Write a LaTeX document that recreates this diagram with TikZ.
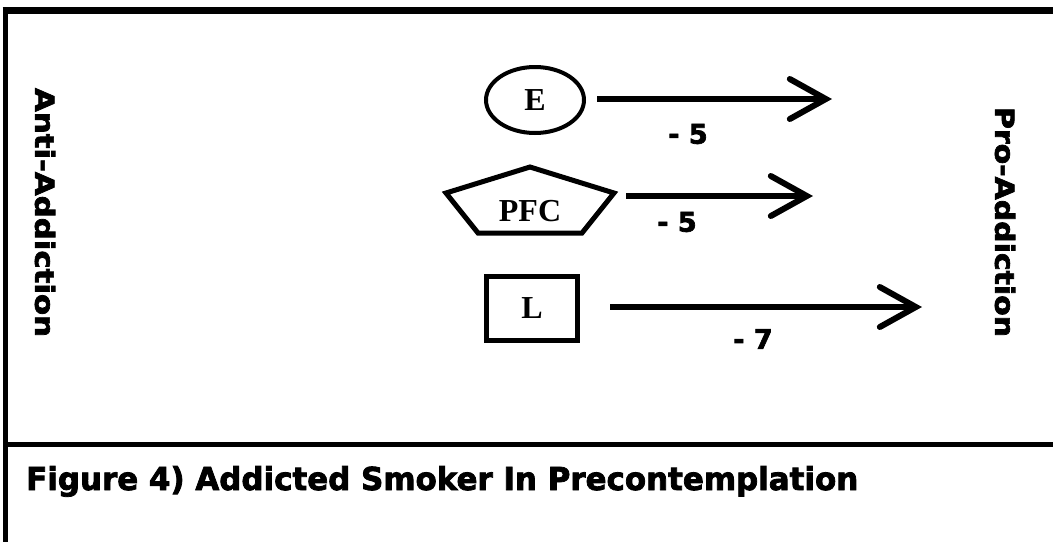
\documentclass[tikz,border=0pt]{standalone}
\usepackage{fontspec}
\usepackage{graphicx}
\setmainfont{Liberation Serif}
\newfontfamily\heavy{DejaVu Sans}[BoldFeatures={FakeBold=2.5}]
\usetikzlibrary{arrows.meta,shapes.geometric}
\tikzset{
  frameline/.style={line width=#1, black},
  shapelbl/.style={font=\bfseries\fontsize{32}{32}\selectfont, inner sep=0pt},
  valuelbl/.style={font=\heavy\bfseries\fontsize{27}{27}\selectfont, inner sep=0pt},
  arr/.style={line width=6pt, -{Straight Barb[length=36pt,width=40pt,line cap=round]}},
}
\begin{document}
\begin{tikzpicture}[x=1pt,y=-1pt]
\useasboundingbox (0,0) rectangle (1053,542);
% frame
\coordinate (tl) at (2.7,10.3);
\coordinate (tr) at (1053,10.3);
\coordinate (bl) at (5.5,542);
\coordinate (dl) at (5.5,444);
\coordinate (dr) at (1053,444);
\draw[frameline=7pt] (tl) -- (tr);
\draw[frameline=5.5pt] (5.5,7) -- (bl);
\draw[frameline=5pt] (dl) -- (dr);
% side labels
\node[rotate=-90, inner sep=0pt] (anti) at (45,212.5)
  {\resizebox{249pt}{20pt}{\heavy\bfseries Anti-Addiction}};
\node[rotate=-90, inner sep=0pt] (pro) at (1005,222)
  {\resizebox{230pt}{20pt}{\heavy\bfseries Pro-Addiction}};
% caption
\node[anchor=base west, inner sep=0pt] (cap) at (26,490)
  {\resizebox{832pt}{24pt}{\heavy\bfseries Figure 4) Addicted Smoker In Precontemplation}};
% E
\node[draw, ellipse, line width=4pt, minimum width=98pt, minimum height=66pt, shapelbl] (e) at (535,100) {E};
\coordinate (etip) at (832,99);
\draw[arr, shorten <=11pt] (e.east |- etip) -- (etip);
\node[valuelbl] (v1) at (688,134) {- 5};
% PFC
\coordinate (p1) at (530,167);
\coordinate (p2) at (614,193);
\coordinate (p3) at (582,233);
\coordinate (p4) at (478,233);
\coordinate (p5) at (446,193);
\draw[line width=5pt, line join=miter] (p1) -- (p2) -- (p3) -- (p4) -- (p5) -- cycle;
\node[shapelbl] (pfc) at (530,211) {PFC};
\coordinate (ps) at (626,196);
\coordinate (ptip) at (813,196);
\draw[arr] (ps) -- (ptip);
\node[valuelbl] (v2) at (677,222) {- 5};
% L
\node[draw, rectangle, line width=5pt, minimum width=91pt, minimum height=64pt, shapelbl] (l) at (532,308.5) {L};
\coordinate (ltip) at (922,307);
\draw[arr, shorten <=30pt] (l.east |- ltip) -- (ltip);
\node[valuelbl] (v3) at (753,339) {- 7};
\end{tikzpicture}
\end{document}
